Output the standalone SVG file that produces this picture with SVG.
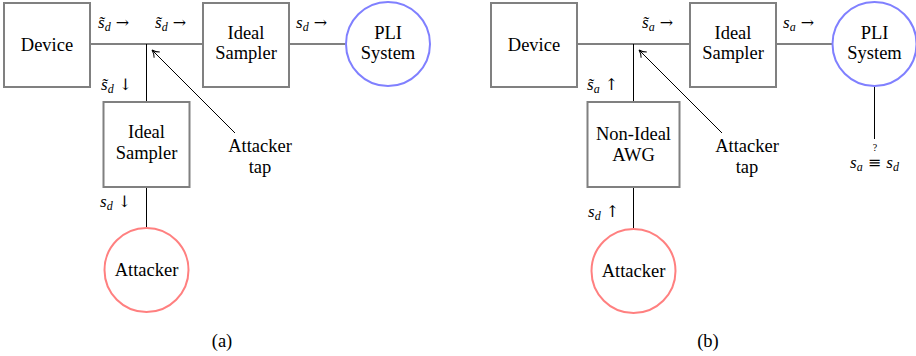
<svg xmlns="http://www.w3.org/2000/svg" width="916" height="356" viewBox="0 0 916 356">
  <style>
    .box { fill: #ffffff; stroke: #808080; stroke-width: 2; }
    .pli { fill: #ffffff; stroke: #8080ff; stroke-width: 2; }
    .atk { fill: #ffffff; stroke: #ff8080; stroke-width: 2; }
    .wire { stroke: #808080; stroke-width: 2; fill: none; }
    .thin { stroke: #000000; stroke-width: 1; fill: none; }
    .lbl { font-family: 'Liberation Serif', serif; font-size: 18.5px; text-anchor: middle; fill: #000000; }
    .math { font-family: 'Liberation Serif', serif; font-size: 17px; fill: #000000; }
    .var { font-style: italic; }
    .sub { font-size: 12px; font-style: italic; }
    .arr { font-family: 'DejaVu Serif', serif; font-size: 16px; font-style: normal; }
    .q { font-family: 'Liberation Serif', serif; font-size: 10px; text-anchor: middle; fill: #000000; }
  </style>
  <defs>
    <!-- open arrow tip for the tap pointers -->
    <marker id="tip" markerWidth="12" markerHeight="12" refX="10" refY="6" orient="auto" markerUnits="userSpaceOnUse">
      <path d="M3,2 Q6,5 10,6 Q6,7 3,10" fill="none" stroke="#000" stroke-width="1"/>
    </marker>
  </defs>

  <!-- signal wires and tap pointers -->
  <g id="connectors">
    <line class="wire" x1="90" y1="44" x2="203" y2="44"/>
    <line class="wire" x1="289" y1="44" x2="345" y2="44"/>
    <line class="thin" x1="146.5" y1="44" x2="146.5" y2="102"/>
    <line class="thin" x1="146.5" y1="187" x2="146.5" y2="228"/>
    <line class="thin" x1="235" y1="133" x2="152" y2="50" marker-end="url(#tip)"/>
    <line class="wire" x1="577" y1="44" x2="690" y2="44"/>
    <line class="wire" x1="776" y1="44" x2="832" y2="44"/>
    <line class="thin" x1="633.5" y1="44" x2="633.5" y2="102"/>
    <line class="thin" x1="633.5" y1="187" x2="633.5" y2="229"/>
    <line class="thin" x1="874.5" y1="87" x2="874.5" y2="139"/>
    <line class="thin" x1="722" y1="133" x2="639" y2="50" marker-end="url(#tip)"/>
  </g>

  <!-- left panel: passive sampling attack -->
  <g id="device-a">
    <rect class="box" x="4" y="3" width="86" height="84"/>
    <text class="lbl" x="47" y="51">Device</text>
  </g>
  <g id="sampler-a">
    <rect class="box" x="203" y="3" width="86" height="84"/>
    <text class="lbl" x="246" y="39">Ideal</text>
    <text class="lbl" x="246" y="59">Sampler</text>
  </g>
  <g id="pli-a">
    <circle class="pli" cx="388" cy="44" r="42"/>
    <text class="lbl" x="388" y="39">PLI</text>
    <text class="lbl" x="388" y="59">System</text>
  </g>
  <g id="tap-sampler-a">
    <rect class="box" x="103.5" y="102" width="86" height="85"/>
    <text class="lbl" x="146.5" y="138">Ideal</text>
    <text class="lbl" x="146.5" y="159">Sampler</text>
  </g>
  <g id="attacker-a">
    <circle class="atk" cx="146.5" cy="270" r="42"/>
    <text class="lbl" x="146.5" y="276">Attacker</text>
  </g>
  <g id="tap-a">
    <text class="lbl" x="260" y="152">Attacker</text>
    <text class="lbl" x="260" y="173">tap</text>
  </g>
  <g id="labels-a">
    <text class="math" x="98" y="28"><tspan class="var">s̃</tspan><tspan class="sub" dy="3">d</tspan><tspan class="arr" dy="-3"> →</tspan></text>
    <text class="math" x="155" y="28"><tspan class="var">s̃</tspan><tspan class="sub" dy="3">d</tspan><tspan class="arr" dy="-3"> →</tspan></text>
    <text class="math" x="296" y="28"><tspan class="var">s</tspan><tspan class="sub" dy="3">d</tspan><tspan class="arr" dy="-3"> →</tspan></text>
    <text class="math" x="101" y="90"><tspan class="var">s̃</tspan><tspan class="sub" dy="3">d</tspan><tspan class="arr" dy="-3"> ↓</tspan></text>
    <text class="math" x="100" y="207"><tspan class="var">s</tspan><tspan class="sub" dy="3">d</tspan><tspan class="arr" dy="-3"> ↓</tspan></text>
  </g>

  <!-- right panel: injection attack -->
  <g id="device-b">
    <rect class="box" x="491" y="3" width="86" height="84"/>
    <text class="lbl" x="534" y="51">Device</text>
  </g>
  <g id="sampler-b">
    <rect class="box" x="690" y="3" width="86" height="84"/>
    <text class="lbl" x="733" y="39">Ideal</text>
    <text class="lbl" x="733" y="59">Sampler</text>
  </g>
  <g id="pli-b">
    <circle class="pli" cx="874.5" cy="44" r="42"/>
    <text class="lbl" x="874.5" y="39">PLI</text>
    <text class="lbl" x="874.5" y="59">System</text>
  </g>
  <g id="awg-b">
    <rect class="box" x="587.5" y="102" width="92" height="85"/>
    <text class="lbl" x="633.5" y="140">Non-Ideal</text>
    <text class="lbl" x="633.5" y="161">AWG</text>
  </g>
  <g id="attacker-b">
    <circle class="atk" cx="633.5" cy="271" r="42"/>
    <text class="lbl" x="633.5" y="277">Attacker</text>
  </g>
  <g id="tap-b">
    <text class="lbl" x="747" y="152">Attacker</text>
    <text class="lbl" x="747" y="173">tap</text>
  </g>
  <g id="labels-b">
    <text class="math" x="642" y="28"><tspan class="var">s̃</tspan><tspan class="sub" dy="3">a</tspan><tspan class="arr" dy="-3"> →</tspan></text>
    <text class="math" x="783" y="28"><tspan class="var">s</tspan><tspan class="sub" dy="3">a</tspan><tspan class="arr" dy="-3"> →</tspan></text>
    <text class="math" x="587" y="90"><tspan class="var">s̃</tspan><tspan class="sub" dy="3">a</tspan><tspan class="arr" dy="-3"> ↑</tspan></text>
    <text class="math" x="588" y="217"><tspan class="var">s</tspan><tspan class="sub" dy="3">d</tspan><tspan class="arr" dy="-3"> ↑</tspan></text>
  </g>
  <g id="compare-b">
    <text class="math" x="874.5" y="168" text-anchor="middle"><tspan class="var">s</tspan><tspan class="sub" dy="3">a</tspan><tspan class="arr" dy="-3"> ≡ </tspan><tspan class="var">s</tspan><tspan class="sub" dy="3">d</tspan></text>
    <text class="q" x="875" y="151">?</text>
  </g>

  <!-- panel captions -->
  <text class="lbl" x="222" y="347">(a)</text>
  <text class="lbl" x="708" y="347">(b)</text>
</svg>
